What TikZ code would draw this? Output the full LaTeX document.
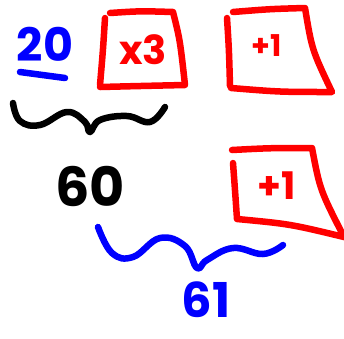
\documentclass[tikz,border=0pt]{standalone}
\usepackage{fontspec}
\setmainfont{Poppins}
\tikzset{
  ink/.style={line width=6.5pt, line cap=round, line join=round},
  hand/.style={font=\bfseries, inner sep=0pt},
}
\begin{document}
\begin{tikzpicture}[x=1pt, y=-1pt]
\useasboundingbox (0,0) rectangle (344,338);
% start number
\node[hand, blue, font=\bfseries\fontsize{46}{46}\selectfont] (start) at (45,44) {20};
\draw[ink, blue] (20,72) -- (65,78);
% first box: times three
\draw[ink, red] (110,13) .. controls (140,11) .. (173,12) .. controls (180,40) .. (185,85)
  .. controls (140,86) .. (100,87);
\draw[ink, red] (105,18) .. controls (103,50) .. (100,85);
\node[hand, red, font=\bfseries\fontsize{40}{40}\selectfont] (times) at (143,50) {x3};
% second box: plus one
\draw[ink, red] (233,12) .. controls (270,9) .. (305,8) .. controls (312,50) .. (332,92)
  .. controls (280,92) .. (231,88);
\draw[ink, red] (227,18) .. controls (229,50) .. (230,86);
\node[hand, red, font=\bfseries\fontsize{30}{30}\selectfont] (plusa) at (267,46) {+1};
% black brace under 20 and x3
\draw[ink] plot[smooth, tension=0.7] coordinates {(13,103) (20,121) (40,125) (67,112) (85,122) (90,132) (100,120) (127,116) (150,122) (165,107)};
\node[hand, font=\bfseries\fontsize{54}{54}\selectfont] (sixty) at (90,186) {60};
% third box: plus one
\draw[ink, red] (232,150) .. controls (270,148) .. (312,148) .. controls (320,190) .. (344,237);
\draw[ink, red] (233,163) .. controls (235,190) .. (237,219) .. controls (290,224) .. (344,237);
\node[hand, red, font=\bfseries\fontsize{38}{38}\selectfont] (plusb) at (277,186) {+1};
% blue brace under 60 and +1
\draw[ink, blue] plot[smooth, tension=0.7] coordinates {(98,227) (112,253) (133,257) (160,238) (185,246) (197,268) (207,260) (233,248) (263,254) (283,245)};
\node[hand, blue, font=\bfseries\fontsize{48}{48}\selectfont] (result) at (206,300) {61};
\end{tikzpicture}
\end{document}
